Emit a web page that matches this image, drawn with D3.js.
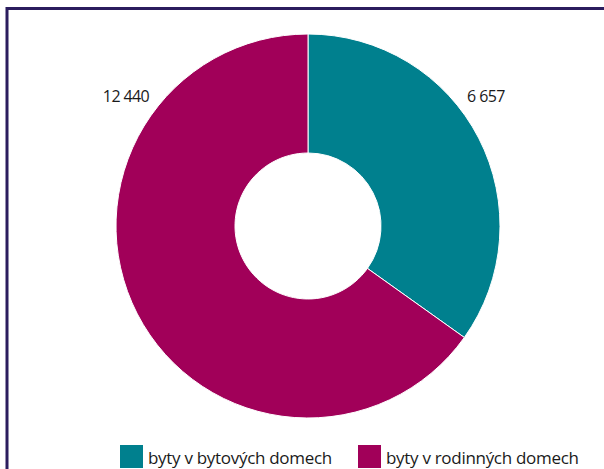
<!DOCTYPE html>
<html>
<head>
<meta charset="utf-8">
<script src="https://cdn.jsdelivr.net/npm/d3@7"></script>
<style>
  body { margin: 0; background: #fff; }
  svg { display: block; font-family: "Open Sans", "Noto Sans", sans-serif; }
</style>
</head>
<body>
<svg id="chart" width="604" height="469"></svg>
<script>
// Data
var categories = ["byty v bytových domech", "byty v rodinných domech"];
var values = [6657, 12440];
var valueLabels = ["6 657", "12 440"];
var colors = ["#00808e", "#a10059"];

var svg = d3.select("#chart"),
    width = +svg.attr("width"),
    height = +svg.attr("height");

// Frame lines (top and left)
svg.append("line")
    .attr("x1", 7).attr("x2", width)
    .attr("y1", 8.5).attr("y2", 8.5)
    .attr("stroke", "#2b1d5e").attr("stroke-width", 3);
svg.append("line")
    .attr("x1", 7).attr("x2", 7)
    .attr("y1", 7).attr("y2", height)
    .attr("stroke", "#2b1d5e").attr("stroke-width", 3);

var cx = 308, cy = 226,
    outerR = 192, innerR = 73;

var pie = d3.pie().sort(null)(values);
var arc = d3.arc().innerRadius(innerR).outerRadius(outerR);

var g = svg.append("g").attr("transform", "translate(" + cx + "," + cy + ")");

g.selectAll("path")
    .data(pie)
  .enter().append("path")
    .attr("d", arc)
    .attr("fill", function(d, i) { return colors[i]; })
    .attr("stroke", "#fff")
    .attr("stroke-width", 1);

// Value labels outside the ring
var labelPos = [[486, 102], [126, 102]];
svg.selectAll("text.value")
    .data(pie)
  .enter().append("text")
    .attr("class", "value")
    .attr("x", function(d, i) { return labelPos[i][0]; })
    .attr("y", function(d, i) { return labelPos[i][1]; })
    .attr("text-anchor", "middle")
    .attr("font-size", 16)
    .attr("letter-spacing", -0.6)
    .attr("fill", "#1a1a1a")
    .text(function(d, i) { return valueLabels[i]; });

// Legend
var legendX = [120, 358];
var legend = svg.selectAll("g.legend")
    .data(categories)
  .enter().append("g")
    .attr("class", "legend")
    .attr("transform", function(d, i) { return "translate(" + legendX[i] + ",445)"; });

legend.append("rect")
    .attr("width", 23).attr("height", 23)
    .attr("fill", function(d, i) { return colors[i]; });

legend.append("text")
    .attr("x", 28)
    .attr("y", 19)
    .attr("font-size", 17)
    .attr("letter-spacing", -0.3)
    .attr("fill", "#1a1a1a")
    .text(function(d) { return d; });
</script>
</body>
</html>
